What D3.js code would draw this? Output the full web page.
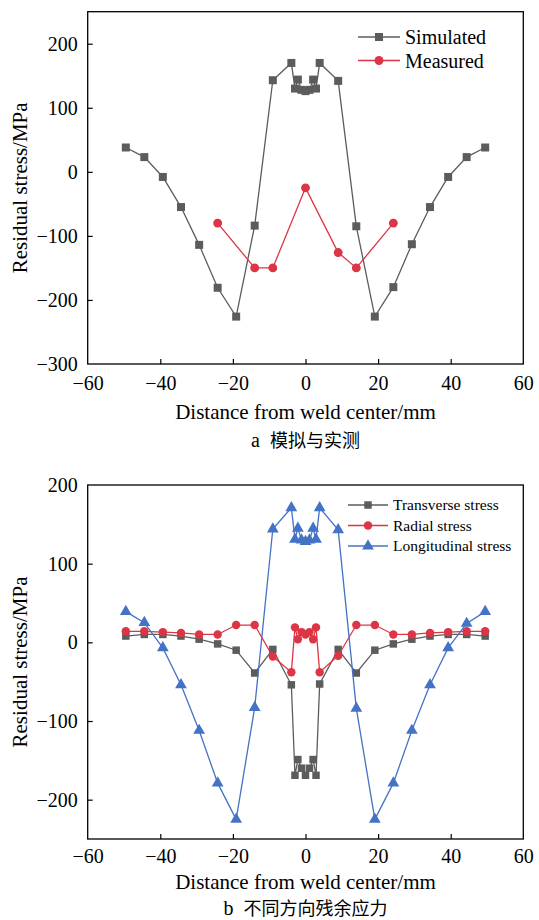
<!DOCTYPE html>
<html>
<head>
<meta charset="utf-8">
<script src="https://cdn.jsdelivr.net/npm/d3@7"></script>
<style>
  body { margin: 0; background: #fff; }
  svg { display: block; }
  text { font-family: "Liberation Serif", "DejaVu Serif", serif; fill: #000; }
  .cjk { font-family: "Noto Sans CJK SC", sans-serif; }
</style>
</head>
<body>
<svg id="chart" width="539" height="920"></svg>
<script>
// distances along the specimen (mm), shared by every simulated series
var xs = [-49.5, -44.4, -39.3, -34.3, -29.3, -24.2, -19.1, -14, -9, -3.9, -2.9, -2.1, -1.1, 0,
          1.1, 2.1, 2.9, 3.9, 9, 14, 19.1, 24.2, 29.3, 34.3, 39.3, 44.4, 49.5]

// panel a
var simulated = [38, 23, -8, -55, -114, -181, -226, -84, 143, 170, 130, 144, 128, 126,
                 128, 144, 130, 170, 142, -85, -226, -180, -113, -55, -8, 23, 38]
var measuredX = [-24.2, -14, -9, 0, 9, 14, 24.2]
var measured = [-80, -150, -150, -25, -126, -150, -80]

// panel b
var transverse = [8, 10, 10, 8, 4, -2, -10, -39, -9, -54, -169, -149, -160, -169,
                  -160, -149, -169, -53, -9, -39, -10, -2, 4, 8, 10, 10, 8]
var radial = [14, 14, 13, 12, 10, 10, 22, 22, -18, -38, 19, 4, 13, 10,
              13, 4, 19, -38, -17, 22, 22, 10, 10, 12, 13, 14, 14]
var longitudinal = [39, 25, -7, -54, -112, -179, -225, -83, 144, 171, 131, 145, 130, 128,
                    130, 145, 131, 171, 143, -84, -225, -179, -112, -54, -7, 24, 39]

var xTicks = [-60, -40, -20, 0, 20, 40, 60]
var yTicksA = [-300, -200, -100, 0, 100, 200]
var yTicksB = [-200, -100, 0, 100, 200]

var xTitle = 'Distance from weld center/mm'
var yTitle = 'Residual stress/MPa'

var gray = '#5c5c5c', red = '#dc3545', blue = '#4472c4'
var serif = '"Liberation Serif", "DejaVu Serif", serif'

var svg = d3.select('#chart')
var left = 87.7, right = 523.3

function symbolPath(kind, size) {
  var t = kind === 'square' ? d3.symbolSquare : kind === 'circle' ? d3.symbolCircle : d3.symbolTriangle
  return d3.symbol().type(t).size(size)()
}

function panel(opt) {
  var x = d3.scaleLinear().domain([-60, 60]).range([left, right])
  var y = d3.scaleLinear().domain(opt.yDomain).range([opt.bottom, opt.top])
  var g = svg.append('g')

  var xa = g.append('g')
      .attr('transform', 'translate(0,' + opt.bottom + ')')
      .call(d3.axisBottom(x).tickValues(xTicks).tickSizeInner(-5).tickSizeOuter(0).tickPadding(opt.xPad))
  var ya = g.append('g')
      .attr('transform', 'translate(' + left + ',0)')
      .call(d3.axisLeft(y).tickValues(opt.yTicks).tickSizeInner(-5).tickSizeOuter(0).tickPadding(10))
  xa.attr('font-family', serif).attr('font-size', 20)
  ya.attr('font-family', serif).attr('font-size', 20)
  g.selectAll('.domain').remove()
  g.selectAll('.tick line').attr('stroke', '#000').attr('stroke-width', 1.2)
  // hide tick marks falling on frame edges
  xa.selectAll('.tick line').filter(function (d) { return d === -60 || d === 60 }).remove()
  ya.selectAll('.tick line').filter(function (d) { return y(d) <= opt.top + 1 || y(d) >= opt.bottom - 1 }).remove()

  g.append('rect')
      .attr('x', left).attr('y', opt.top)
      .attr('width', right - left).attr('height', opt.bottom - opt.top)
      .attr('fill', 'none').attr('stroke', '#000').attr('stroke-width', 1.3)

  opt.series.forEach(function (s) {
    var pts = s.x.map(function (v, i) { return [v, s.y[i]] })
    g.append('path')
        .datum(pts)
        .attr('fill', 'none')
        .attr('stroke', s.color)
        .attr('stroke-width', 1.3)
        .attr('d', d3.line().x(function (d) { return x(d[0]) }).y(function (d) { return y(d[1]) }))
    g.selectAll(null)
        .data(pts)
        .enter().append('path')
        .attr('transform', function (d) { return 'translate(' + x(d[0]) + ',' + y(d[1]) + ')' })
        .attr('d', symbolPath(s.kind, s.size))
        .attr('fill', s.color)
  })

  // legend
  opt.series.forEach(function (s, i) {
    var ly = opt.legend.y + i * opt.legend.dy
    g.append('line')
        .attr('x1', opt.legend.x).attr('x2', opt.legend.x + opt.legend.w)
        .attr('y1', ly).attr('y2', ly)
        .attr('stroke', s.color).attr('stroke-width', 1.3)
    g.append('path')
        .attr('transform', 'translate(' + (opt.legend.x + opt.legend.w / 2) + ',' + ly + ')')
        .attr('d', symbolPath(s.kind, s.size))
        .attr('fill', s.color)
    g.append('text')
        .attr('x', opt.legend.x + opt.legend.w + 5)
        .attr('y', ly)
        .attr('dy', '0.35em')
        .style('font-size', opt.legend.font + 'px')
        .text(s.name)
  })

  g.append('text')
      .attr('x', (left + right) / 2)
      .attr('y', opt.bottom + opt.titleOff)
      .attr('text-anchor', 'middle')
      .style('font-size', '21px')
      .text(xTitle)

  g.append('text')
      .attr('transform', 'translate(27,' + ((opt.top + opt.bottom) / 2) + ') rotate(-90)')
      .attr('text-anchor', 'middle')
      .style('font-size', '21px')
      .text(yTitle)

  var cap = g.append('text')
      .attr('x', (left + right) / 2)
      .attr('y', opt.bottom + opt.capOff)
      .attr('text-anchor', 'middle')
      .style('font-size', '20px')
  cap.append('tspan').text(opt.caption[0] + '\u2002')
  cap.append('tspan').attr('class', 'cjk').style('font-size', '18px').text(opt.caption[1])
}

panel({
  top: 11.7, bottom: 364,
  yDomain: [-300, 250], yTicks: yTicksA,
  xPad: 12, titleOff: 55, capOff: 83,
  series: [
    { name: 'Simulated', x: xs, y: simulated, color: gray, kind: 'square', size: 64 },
    { name: 'Measured', x: measuredX, y: measured, color: red, kind: 'circle', size: 62 }
  ],
  legend: { x: 358, w: 42, y: 37, dy: 23.5, font: 20 },
  caption: ['a', '模拟与实测']
})

panel({
  top: 485, bottom: 839,
  yDomain: [-250, 200], yTicks: yTicksB,
  xPad: 10, titleOff: 50, capOff: 76,
  series: [
    { name: 'Transverse stress', x: xs, y: transverse, color: gray, kind: 'square', size: 56 },
    { name: 'Radial stress', x: xs, y: radial, color: red, kind: 'circle', size: 56 },
    { name: 'Longitudinal stress', x: xs, y: longitudinal, color: blue, kind: 'triangle', size: 60 }
  ],
  legend: { x: 348, w: 40, y: 505, dy: 20.5, font: 15.5 },
  caption: ['b', '不同方向残余应力']
})
</script>
</body>
</html>
